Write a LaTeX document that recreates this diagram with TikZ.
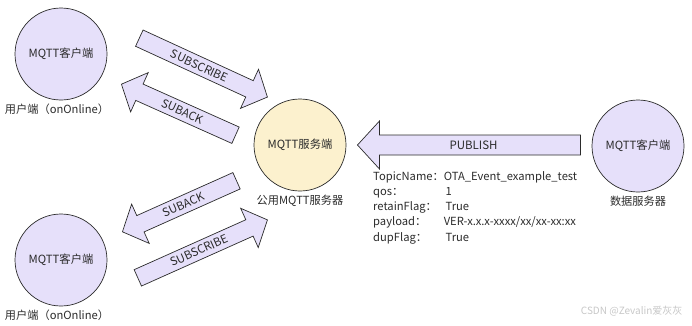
\documentclass[tikz,border=0pt]{standalone}
\usepackage{fontspec}
\setmainfont{Noto Sans CJK SC}
\usepackage{xcolor}
\usepackage{tikz}
\usetikzlibrary{shapes.arrows, positioning}
\definecolor{lila}{HTML}{E6E0FA}
\definecolor{crema}{HTML}{FCF1CE}
\definecolor{tinta}{HTML}{2B2B2B}

\begin{document}
\begin{tikzpicture}[x=1pt, y=1pt,
        client/.style={circle, draw=tinta, fill=lila, line width=0.7pt, minimum size=92pt, text=tinta, font=\fontsize{11.3}{13}\selectfont},
        broker/.style={client, fill=crema},
        caption/.style={text=tinta, font=\fontsize{11.2}{13}\selectfont},
        fat/.style={single arrow, draw=tinta, fill=lila, line width=0.7pt, minimum width=43pt, single arrow head extend=8pt, single arrow tip angle=95, inner sep=1pt, text=tinta, font=\fontsize{11.5}{13}\selectfont},
        fatback/.style={fat, shape border rotate=180}]
    \useasboundingbox (0,0) rectangle (692,325);

    % Circulos
    \node[client] (client1) at (61,271) {MQTT客户端};
    \node[client] (client2) at (61,65) {MQTT客户端};
    \node[broker] (broker) at (300,180) {MQTT服务端};
    \node[client] (datasrc) at (638,179) {MQTT客户端};

    % Etiquetas
    \node[caption, below=0pt of client1, xshift=-4pt] (client1cap) {用户端（onOnline）};
    \node[caption, below=0pt of client2, xshift=-4pt] (client2cap) {用户端（onOnline）};
    \node[caption, below=0pt of broker] (brokercap) {公用MQTT服务器};
    \node[caption, below=0pt of datasrc] (datasrccap) {数据服务器};

    % Flechas gruesas
    \node[fat, minimum height=141pt, rotate=-24.7, anchor=tail] (sub1) at (139,287) {SUBSCRIBE};
    \node[fatback, minimum height=125pt, rotate=-24.1, anchor=tip] (ack1) at (121,241) {SUBACK};
    \node[fatback, minimum height=125pt, rotate=24.1, anchor=tip] (ack2) at (122,93) {SUBACK};
    \node[fat, minimum height=142pt, rotate=24.1, anchor=tail] (sub2) at (137.5,47) {SUBSCRIBE};
    \node[fatback, minimum height=223pt, minimum width=48pt, single arrow head extend=8pt, anchor=tip] (publish) at (357,180) {PUBLISH};

    % Mensaje publicado
    \node[caption, anchor=north west, inner sep=0pt] (payload) at (373,155) {%
        \renewcommand{\arraystretch}{1.16}%
        \begin{tabular}{@{}l@{}l@{}}
            TopicName： & OTA\_Event\_example\_test \\
            qos： & \,1 \\
            retainFlag： & \,True \\
            payload： & VER-x.x.x-xxxx/xx/xx-xx:xx \\
            dupFlag： & \,True
        \end{tabular}};

    % Marca de agua
    \node[text=black!22, font=\fontsize{10}{12}\selectfont, anchor=east] (mark) at (686,14) {CSDN @Zevalin爱灰灰};

\end{tikzpicture}
\end{document}
